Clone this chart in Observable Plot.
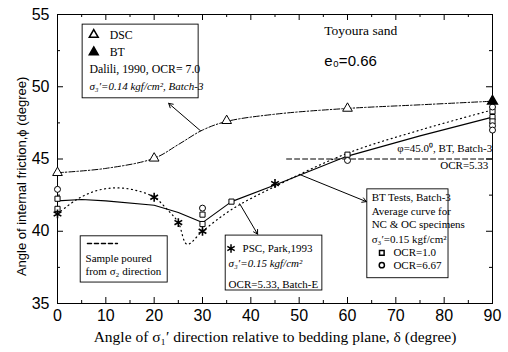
<!DOCTYPE html>
<html>
<head>
<meta charset="utf-8">
<script src="https://cdn.jsdelivr.net/npm/d3@7"></script>
<script src="https://cdn.jsdelivr.net/npm/@observablehq/plot@0.6"></script>
<style>
  html, body { margin: 0; padding: 0; background: #fff; }
  #chart svg { display: block; }
</style>
</head>
<body>
<div id="chart"></div>
<script>
// ---------- data ----------
const xTicks = [0, 10, 20, 30, 40, 50, 60, 70, 80, 90];
const xMinor = [5, 15, 25, 35, 45, 55, 65, 75, 85];
const yTicks = [35, 40, 45, 50, 55];
const yMinor = [37.5, 42.5, 47.5, 52.5];

// DSC (open triangles), BT (filled triangle)
const dscX = [0, 20, 35, 60];
const dscY = [44.05, 45.05, 47.65, 48.5];
const btX = [90];
const btY = [49.0];
// DSC fitted dash-dot curve
const dscCurveX = [0, 10, 20, 25, 30, 35, 45, 60, 75, 90];
const dscCurveY = [44.05, 44.35, 45.05, 46.0, 47.0, 47.6, 48.1, 48.5, 48.75, 49.0];

// BT tests Batch-3: OCR=1.0 (squares), OCR=6.67 (circles)
const sqX = [0, 0, 30, 30, 36, 60, 90, 90, 90];
const sqY = [42.25, 41.55, 41.15, 40.5, 42.05, 45.3, 48.3, 47.9, 47.6];
const ciX = [0, 30, 60, 90, 90, 90];
const ciY = [42.9, 41.6, 44.9, 48.6, 47.3, 47.0];
// average curve (solid)
const avgX = [0, 5, 10, 20, 25, 30, 36, 45, 60, 75, 90];
const avgY = [42.1, 42.2, 42.1, 41.8, 41.3, 40.6, 42.05, 43.2, 45.2, 46.6, 47.9];

// PSC, Park 1993 (asterisks) and dotted curve
const pscX = [0, 20, 25, 30, 45];
const pscY = [41.2, 42.35, 40.6, 40.0, 43.3];
const pscCurveX = [0, 4, 8, 12, 16, 20, 23, 25, 26.8, 30, 36, 45, 60, 75, 90];
const pscCurveY = [41.2, 42.2, 42.8, 43.0, 42.85, 42.35, 41.4, 40.6, 39.1, 40.0, 41.5, 43.1, 45.4, 47.0, 48.4];

// phi = 45.0 reference line (OCR=5.33)
const refX = [47.4, 90];
const refY = [45.0, 45.0];

// annotation boxes (data units): x1, x2, y1, y2
const boxes = [
  {x1: 5.2, x2: 29.2, y1: 49.2, y2: 54.3},
  {x1: 4.8, x2: 22.8, y1: 36.45, y2: 39.65},
  {x1: 34.8, x2: 54.8, y1: 35.9, y2: 39.7},
  {x1: 64.1, x2: 80.9, y1: 36.75, y2: 42.9}
];
// arrows: from curve to box
const arrows = [
  {x1: 29.6, y1: 46.95, x2: 23.0, y2: 48.85},
  {x1: 37.7, y1: 41.9, x2: 41.4, y2: 39.8},
  {x1: 50.3, y1: 43.9, x2: 63.9, y2: 42.05}
];
// annotation texts
const box1Texts = [
  {x: 10.8, y: 53.6, t: "DSC"},
  {x: 10.8, y: 52.4, t: "BT"},
  {x: 6.6, y: 51.2, t: "Dalili, 1990, OCR= 7.0"},
  {x: 6.6, y: 50.05, t: "σ₃′=0.14 kgf/cm², Batch-3", italic: true}
];
const serifTexts = [
  {x: 5.8, y: 38.15, t: "Sample poured"},
  {x: 5.8, y: 37.2, t: "from σ₂ direction"},
  {x: 38.3, y: 38.8, t: "PSC, Park,1993"},
  {x: 35.4, y: 37.75, t: "σ₃′=0.15 kgf/cm²", italic: true},
  {x: 35.4, y: 36.3, t: "OCR=5.33, Batch-E"},
  {x: 65.0, y: 42.35, t: "BT Tests, Batch-3"},
  {x: 65.0, y: 41.4, t: "Average curve for"},
  {x: 65.0, y: 40.5, t: "NC & OC specimens"},
  {x: 65.0, y: 39.45, t: "σ₃′=0.15 kgf/cm²"},
  {x: 69.5, y: 38.5, t: "OCR=1.0"},
  {x: 69.5, y: 37.65, t: "OCR=6.67"},
  {x: 70.3, y: 45.75, t: "φ=45.0⁰, BT, Batch-3"},
  {x: 79.2, y: 44.55, t: "OCR=5.33"}
];
const legendTriOpen = [{x: 7.5, y: 53.6}];
const legendTriFill = [{x: 7.5, y: 52.4}];
const legendStar = [{x: 35.9, y: 38.8}];
const legendSq = [{x: 67.1, y: 38.5}];
const legendCi = [{x: 67.1, y: 37.65}];
const legendDashX = [6.2, 12.4];
const legendDashY = [39.15, 39.15];

// titles and their anchor positions (data units; y title lies left of the frame)
const yTitle = [{x: -7.45, y: 43.8, t: "Angle of internal friction,ϕ (degree)"}];
const xTitle = ["Angle of σ₁′ direction relative to bedding plane, δ (degree)"];

// ---------- build ----------
const pts = (X, Y) => X.map((x, i) => ({x, y: Y[i]}));
const serif = "'Liberation Serif', 'Times New Roman', serif";
const sans = "'Liberation Sans', Arial, sans-serif";

const chart = Plot.plot({
  width: 508,
  height: 352,
  marginLeft: 57,
  marginRight: 16,
  marginTop: 14,
  marginBottom: 49,
  style: {background: "#fff", color: "#000", fontFamily: sans},
  x: {domain: [0, 90], label: null},
  y: {domain: [35, 55], label: null},
  marks: [
    Plot.frame({stroke: "#000", strokeWidth: 1}),
    // inward ticks
    Plot.ruleX(xTicks, {x: d => d, y1: 35, y2: 35, insetTop: -6, stroke: "#000"}),
    Plot.ruleX(xMinor, {x: d => d, y1: 35, y2: 35, insetTop: -3, stroke: "#000"}),
    Plot.ruleX(xTicks, {x: d => d, y1: 55, y2: 55, insetBottom: -6, stroke: "#000"}),
    Plot.ruleX(xMinor, {x: d => d, y1: 55, y2: 55, insetBottom: -3, stroke: "#000"}),
    Plot.ruleY(yTicks, {y: d => d, x1: 0, x2: 0, insetRight: -6, stroke: "#000"}),
    Plot.ruleY(yMinor, {y: d => d, x1: 0, x2: 0, insetRight: -3, stroke: "#000"}),
    Plot.ruleY(yTicks, {y: d => d, x1: 90, x2: 90, insetLeft: -6, stroke: "#000"}),
    Plot.ruleY(yMinor, {y: d => d, x1: 90, x2: 90, insetLeft: -3, stroke: "#000"}),
    Plot.axisX({ticks: xTicks, tickSize: 0, tickPadding: 6, fontSize: 16, fontFamily: sans, label: null}),
    Plot.axisY({ticks: yTicks, tickSize: 0, tickPadding: 8, fontSize: 16, fontFamily: sans, label: null}),

    // curves
    Plot.line(pts(dscCurveX, dscCurveY), {x: "x", y: "y", curve: "catmull-rom", stroke: "#000", strokeWidth: 1, strokeDasharray: "6,2,1.5,2"}),
    Plot.line(pts(avgX, avgY), {x: "x", y: "y", stroke: "#000", strokeWidth: 1.1}),
    Plot.line(pts(pscCurveX, pscCurveY), {x: "x", y: "y", curve: "catmull-rom", stroke: "#000", strokeWidth: 1.2, strokeDasharray: "1,3.5"}),
    Plot.line(pts(refX, refY), {x: "x", y: "y", stroke: "#000", strokeWidth: 1, strokeDasharray: "5,3"}),

    // points
    Plot.dot(pts(sqX, sqY), {x: "x", y: "y", symbol: "square", r: 2.9, fill: "#fff", stroke: "#000", strokeWidth: 1}),
    Plot.dot(pts(ciX, ciY), {x: "x", y: "y", symbol: "circle", r: 3, fill: "#fff", stroke: "#000", strokeWidth: 1}),
    Plot.dot(pts(dscX, dscY), {x: "x", y: "y", symbol: "triangle", r: 3.6, fill: "#fff", stroke: "#000", strokeWidth: 1}),
    Plot.dot(pts(btX, btY), {x: "x", y: "y", symbol: "triangle", r: 3.6, fill: "#000", stroke: "#000"}),
    Plot.dot(pts(pscX, pscY), {x: "x", y: "y", symbol: "asterisk", r: 4.2, stroke: "#000", strokeWidth: 1.6}),

    // annotation boxes
    Plot.rect(boxes, {x1: "x1", x2: "x2", y1: "y1", y2: "y2", fill: "#fff", stroke: "#000", strokeWidth: 0.9}),
    Plot.arrow(arrows, {x1: "x1", y1: "y1", x2: "x2", y2: "y2", stroke: "#000", strokeWidth: 1, headLength: 7}),
    Plot.line(pts(legendDashX, legendDashY), {x: "x", y: "y", stroke: "#000", strokeDasharray: "4,3"}),
    Plot.dot(legendTriOpen, {x: "x", y: "y", symbol: "triangle", r: 3.3, fill: "#fff", stroke: "#000"}),
    Plot.dot(legendTriFill, {x: "x", y: "y", symbol: "triangle", r: 3.3, fill: "#000", stroke: "#000"}),
    Plot.dot(legendStar, {x: "x", y: "y", symbol: "asterisk", r: 4, stroke: "#000", strokeWidth: 1.5}),
    Plot.dot(legendSq, {x: "x", y: "y", symbol: "square", r: 2.6, fill: "#fff", stroke: "#000"}),
    Plot.dot(legendCi, {x: "x", y: "y", symbol: "circle", r: 2.6, fill: "#fff", stroke: "#000"}),
    Plot.text(box1Texts.filter(d => !d.italic), {x: "x", y: "y", text: "t", textAnchor: "start", fontFamily: serif, fontSize: 11.8, fill: "#000"}),
    Plot.text(box1Texts.filter(d => d.italic), {x: "x", y: "y", text: "t", textAnchor: "start", fontFamily: serif, fontSize: 11, fontStyle: "italic", fill: "#000"}),
    Plot.text(serifTexts.filter(d => !d.italic), {x: "x", y: "y", text: "t", textAnchor: "start", fontFamily: serif, fontSize: 11, fill: "#000"}),
    Plot.text(serifTexts.filter(d => d.italic), {x: "x", y: "y", text: "t", textAnchor: "start", fontFamily: serif, fontSize: 11, fontStyle: "italic", fill: "#000"}),
    Plot.text(["Toyoura sand"], {x: 55.2, y: 53.85, text: d => d, textAnchor: "start", fontFamily: serif, fontSize: 13.5, fill: "#000"}),
    Plot.text(["e₀=0.66"], {x: 55.2, y: 51.75, text: d => d, textAnchor: "start", fontFamily: sans, fontSize: 15, fill: "#000"}),

    // axis titles
    Plot.text(yTitle, {x: "x", y: "y", text: "t", rotate: -90, fontFamily: sans, fontSize: 13, fill: "#000"}),
    Plot.text(xTitle, {frameAnchor: "bottom", dy: 38, text: d => d, fontFamily: serif, fontSize: 15.5, fill: "#000"})
  ]
});
document.getElementById("chart").appendChild(chart);
</script>
</body>
</html>
